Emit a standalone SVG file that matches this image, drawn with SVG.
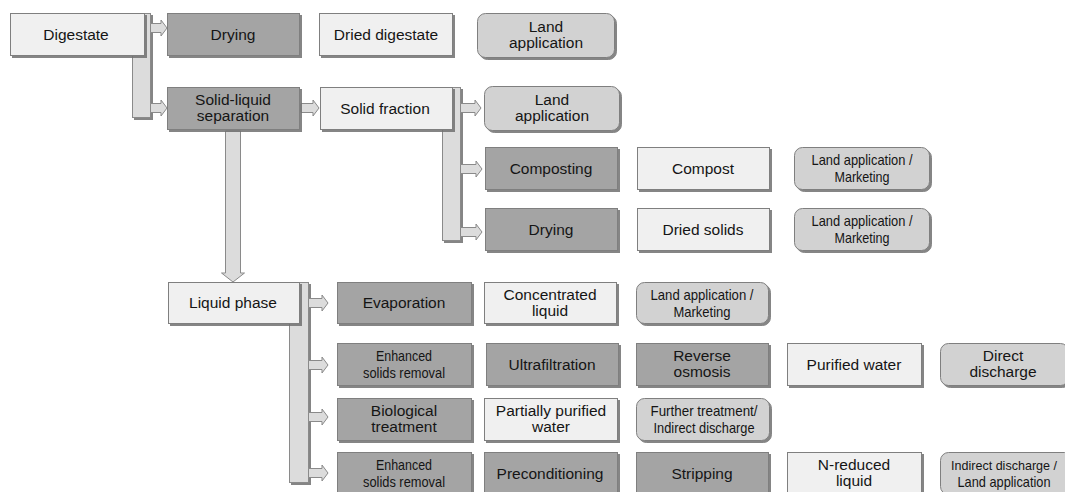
<svg xmlns="http://www.w3.org/2000/svg" width="1065" height="492" viewBox="0 0 1065 492">
<defs>
<filter id="sh" x="-5%" y="-10%" width="115%" height="130%">
<feDropShadow dx="2" dy="2" stdDeviation="0.6" flood-color="#707070" flood-opacity="0.85"/>
</filter>
<style>
.lt{fill:#f0f0f0;stroke:#7f7f7f;stroke-width:1;filter:url(#sh)}
.dk{fill:#a4a4a4;stroke:#7f7f7f;stroke-width:1;filter:url(#sh)}
.rd{fill:#d2d2d2;stroke:#7f7f7f;stroke-width:1;filter:url(#sh)}
.bar{fill:#dcdcdc;stroke:#8a8a8a;stroke-width:1;filter:url(#sh)}
.ar{fill:#dcdcdc;stroke:#8a8a8a;stroke-width:1}
text{font-family:"Liberation Sans",Arial,sans-serif;font-size:15.5px;fill:#151515;text-anchor:middle}
text.s{font-size:14.5px}
text.xs{font-size:13.5px}
</style>
</defs>
<rect width="1065" height="492" fill="#ffffff"/>
<g id="connectors">
<rect class="bar" x="132.5" y="13.5" width="18" height="104"/>
<rect class="bar" x="442.5" y="87.5" width="18" height="153"/>
<rect class="bar" x="289.5" y="282.5" width="19" height="200"/>
<path class="ar" d="M150.5 23.5 H161 V20 L167 28 L161 36 V32.5 H150.5 Z"/>
<path class="ar" d="M150.5 103.5 H161 V100 L167 108 L161 116 V112.5 H150.5 Z"/>
<path class="ar" d="M301 103.5 H313 V100 L319 108 L313 116 V112.5 H301 Z"/>
<path class="ar" d="M460.5 103.5 H475 V100 L481 108 L475 116 V112.5 H460.5 Z"/>
<path class="ar" d="M460.5 164.5 H476 V161 L482 169 L476 177 V173.5 H460.5 Z"/>
<path class="ar" d="M460.5 227.5 H476 V224 L482 232 L476 240 V236.5 H460.5 Z"/>
<path class="ar" d="M308.5 298.5 H322 V295 L328 303 L322 311 V307.5 H308.5 Z"/>
<path class="ar" d="M308.5 360.5 H322 V357 L328 365 L322 373 V369.5 H308.5 Z"/>
<path class="ar" d="M308.5 412.5 H322 V409 L328 417 L322 425 V421.5 H308.5 Z"/>
<path class="ar" d="M308.5 468.5 H322 V465 L328 473 L322 481 V477.5 H308.5 Z"/>
<path class="ar" d="M225.5 131 V273 H221.5 L233 282 L244.5 273 H240.5 V131 Z"/>
</g>
<g id="digestate"><rect class="lt" x="10.5" y="13.5" width="134" height="42"/><text x="76" y="40">Digestate</text></g>
<g id="drying1"><rect class="dk" x="167.5" y="13.5" width="132" height="42"/><text x="233" y="40">Drying</text></g>
<g id="dried-digestate"><rect class="lt" x="319.5" y="13.5" width="133" height="42"/><text x="386" y="40">Dried digestate</text></g>
<g id="land-application-1"><rect class="rd" x="477.5" y="13.5" width="137" height="44" rx="8"/><text x="546" y="32">Land</text><text x="546" y="48">application</text></g>
<g id="solid-liquid-separation"><rect class="dk" x="167.5" y="87.5" width="132" height="42"/><text x="233" y="105">Solid-liquid</text><text x="233" y="121">separation</text></g>
<g id="solid-fraction"><rect class="lt" x="320.5" y="87.5" width="132" height="42"/><text x="385" y="114">Solid fraction</text></g>
<g id="land-application-2"><rect class="rd" x="484.5" y="86.5" width="135" height="44" rx="8"/><text x="552" y="105">Land</text><text x="552" y="121">application</text></g>
<g id="composting"><rect class="dk" x="485.5" y="147.5" width="132" height="42"/><text x="551" y="174">Composting</text></g>
<g id="compost"><rect class="lt" x="637.5" y="147.5" width="132" height="42"/><text x="703" y="174">Compost</text></g>
<g id="land-marketing-1"><rect class="rd" x="794.5" y="147.5" width="135" height="42" rx="8"/><text class="s" x="862" y="165" textLength="101" lengthAdjust="spacingAndGlyphs">Land application /</text><text class="s" x="862" y="182" textLength="55" lengthAdjust="spacingAndGlyphs">Marketing</text></g>
<g id="drying2"><rect class="dk" x="485.5" y="208.5" width="132" height="42"/><text x="551" y="235">Drying</text></g>
<g id="dried-solids"><rect class="lt" x="637.5" y="208.5" width="132" height="42"/><text x="703" y="235">Dried solids</text></g>
<g id="land-marketing-2"><rect class="rd" x="794.5" y="208.5" width="135" height="42" rx="8"/><text class="s" x="862" y="226" textLength="101" lengthAdjust="spacingAndGlyphs">Land application /</text><text class="s" x="862" y="243" textLength="55" lengthAdjust="spacingAndGlyphs">Marketing</text></g>
<g id="liquid-phase"><rect class="lt" x="168.5" y="282.5" width="131" height="41"/><text x="233" y="308">Liquid phase</text></g>
<g id="evaporation"><rect class="dk" x="337.5" y="282.5" width="134" height="41"/><text x="404" y="308">Evaporation</text></g>
<g id="concentrated-liquid"><rect class="lt" x="484.5" y="282.5" width="132" height="41"/><text x="550" y="300">Concentrated</text><text x="550" y="316">liquid</text></g>
<g id="land-marketing-3"><rect class="rd" x="636.5" y="282.5" width="132" height="41" rx="8"/><text class="s" x="702" y="300" textLength="103" lengthAdjust="spacingAndGlyphs">Land application /</text><text class="s" x="702" y="317" textLength="57" lengthAdjust="spacingAndGlyphs">Marketing</text></g>
<g id="enhanced-solids-1"><rect class="dk" x="337.5" y="343.5" width="134" height="42"/><text class="s" x="404" y="361" textLength="56" lengthAdjust="spacingAndGlyphs">Enhanced</text><text class="s" x="404" y="378" textLength="82" lengthAdjust="spacingAndGlyphs">solids removal</text></g>
<g id="ultrafiltration"><rect class="dk" x="486.5" y="343.5" width="132" height="42"/><text x="552" y="370">Ultrafiltration</text></g>
<g id="reverse-osmosis"><rect class="dk" x="636.5" y="343.5" width="132" height="42"/><text x="702" y="361">Reverse</text><text x="702" y="377">osmosis</text></g>
<g id="purified-water"><rect class="lt" x="787.5" y="343.5" width="134" height="42"/><text x="854" y="370">Purified water</text></g>
<g id="direct-discharge"><rect class="rd" x="940.5" y="343.5" width="128" height="42" rx="8"/><text x="1003" y="361">Direct</text><text x="1003" y="377">discharge</text></g>
<g id="biological-treatment"><rect class="dk" x="337.5" y="398.5" width="134" height="42"/><text x="404" y="416">Biological</text><text x="404" y="432">treatment</text></g>
<g id="partially-purified-water"><rect class="lt" x="484.5" y="398.5" width="133" height="42"/><text x="551" y="416">Partially purified</text><text x="551" y="432">water</text></g>
<g id="further-treatment"><rect class="rd" x="636.5" y="398.5" width="133" height="42" rx="8"/><text class="s" x="704" y="416" textLength="107" lengthAdjust="spacingAndGlyphs">Further treatment/</text><text class="s" x="704" y="433" textLength="101" lengthAdjust="spacingAndGlyphs">Indirect discharge</text></g>
<g id="enhanced-solids-2"><rect class="dk" x="337.5" y="452.5" width="134" height="42"/><text class="s" x="404" y="470" textLength="56" lengthAdjust="spacingAndGlyphs">Enhanced</text><text class="s" x="404" y="487" textLength="82" lengthAdjust="spacingAndGlyphs">solids removal</text></g>
<g id="preconditioning"><rect class="dk" x="484.5" y="452.5" width="133" height="42"/><text x="550" y="479">Preconditioning</text></g>
<g id="stripping"><rect class="dk" x="636.5" y="452.5" width="132" height="42"/><text x="702" y="479">Stripping</text></g>
<g id="n-reduced-liquid"><rect class="lt" x="787.5" y="452.5" width="134" height="42"/><text x="854" y="470">N-reduced</text><text x="854" y="486">liquid</text></g>
<g id="indirect-discharge"><rect class="rd" x="940.5" y="452.5" width="132" height="42" rx="8"/><text class="xs" x="1004" y="470" textLength="106" lengthAdjust="spacingAndGlyphs">Indirect discharge /</text><text class="s" x="1004" y="487" textLength="93" lengthAdjust="spacingAndGlyphs">Land application</text></g>
</svg>
